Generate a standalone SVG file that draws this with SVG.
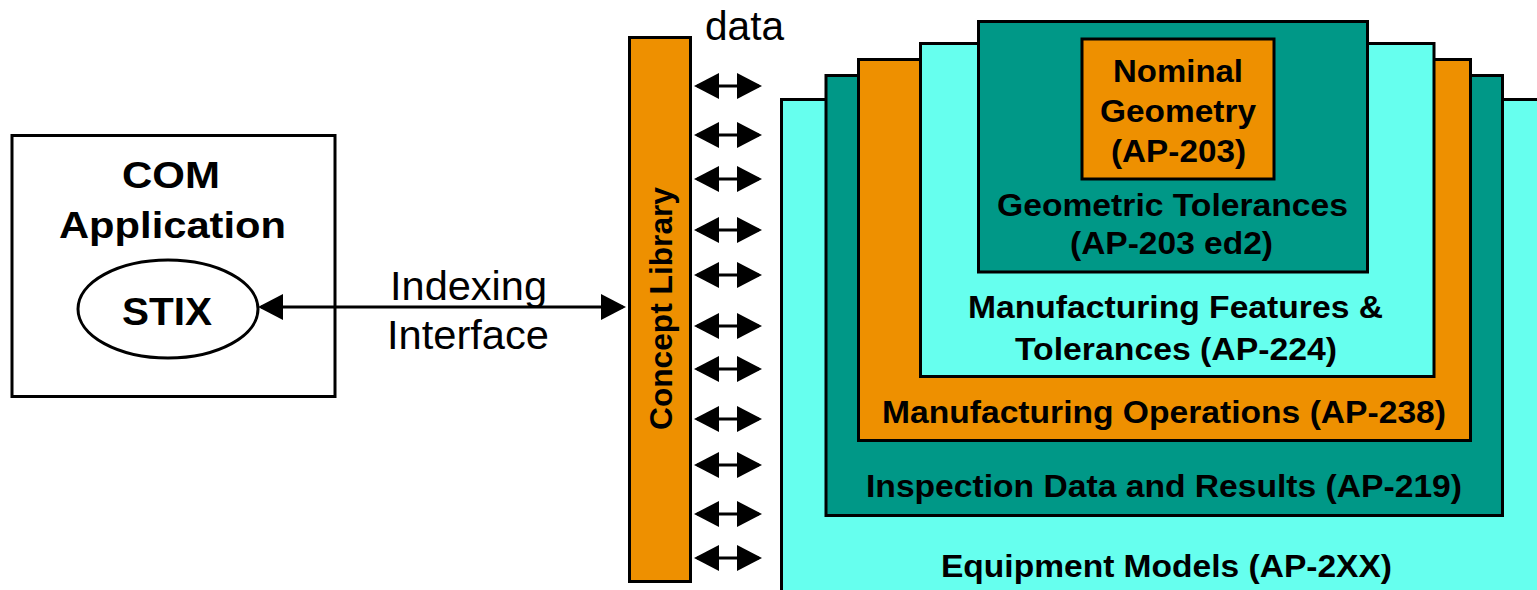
<svg xmlns="http://www.w3.org/2000/svg" width="1537" height="590" viewBox="0 0 1537 590">
  <style>
    .frame { stroke: #000; stroke-width: 3; }
    .cyan { fill: #66FFEE; }
    .teal { fill: #009887; }
    .orange { fill: #EE9000; }
    .white { fill: #FFFFFF; }
    .bold { font-family: "Liberation Sans", Arial, sans-serif; font-weight: bold; fill: #000; text-anchor: middle; }
    .plain { font-family: "Liberation Sans", Arial, sans-serif; font-weight: normal; fill: #000; text-anchor: middle; }
    .box-label { font-size: 31px; }
    .link { stroke: #000; stroke-width: 3; fill: none; marker-start: url(#head); marker-end: url(#head); }
  </style>
  <defs>
    <marker id="head" markerUnits="userSpaceOnUse" markerWidth="25" markerHeight="26" refX="22" refY="13" orient="auto-start-reverse" viewBox="0 0 25 26">
      <path d="M0,0 L25,13 L0,26 Z" fill="#000"/>
    </marker>
  </defs>

  <rect width="1537" height="590" fill="#FFFFFF"/>

  <!-- Client application hosting the STIX component -->
  <g id="com-application">
    <rect class="frame white" x="12" y="135.5" width="323" height="261"/>
    <text class="bold" x="171" y="188" font-size="37" textLength="98" lengthAdjust="spacingAndGlyphs">COM</text>
    <text class="bold" x="172.5" y="238" font-size="37" textLength="227" lengthAdjust="spacingAndGlyphs">Application</text>
  </g>
  <g id="stix">
    <ellipse class="frame white" cx="168" cy="309" rx="90" ry="49"/>
    <text class="bold" x="167" y="325" font-size="39" textLength="90" lengthAdjust="spacingAndGlyphs">STIX</text>
  </g>

  <!-- Vertical concept library bar -->
  <g id="concept-library">
    <rect class="frame orange" x="629.5" y="37.5" width="61" height="544"/>
    <text class="bold" transform="translate(672,308.5) rotate(-90)" x="0" y="0" font-size="31" textLength="243" lengthAdjust="spacingAndGlyphs">Concept Library</text>
  </g>

  <!-- Nested application protocol layers, outermost first -->
  <g id="ap-2xx">
    <rect class="frame cyan" x="781.5" y="99.5" width="760" height="500"/>
    <text class="bold box-label" x="1166.5" y="577" textLength="451" lengthAdjust="spacingAndGlyphs">Equipment Models (AP-2XX)</text>
  </g>
  <g id="ap-219">
    <rect class="frame teal" x="826" y="75.5" width="676.5" height="440"/>
    <text class="bold box-label" x="1164" y="497" textLength="596" lengthAdjust="spacingAndGlyphs">Inspection Data and Results (AP-219)</text>
  </g>
  <g id="ap-238">
    <rect class="frame orange" x="858.5" y="59.5" width="612" height="381"/>
    <text class="bold box-label" x="1164" y="423" textLength="564" lengthAdjust="spacingAndGlyphs">Manufacturing Operations (AP-238)</text>
  </g>
  <g id="ap-224">
    <rect class="frame cyan" x="920.5" y="43.5" width="513.5" height="333"/>
    <text class="bold box-label" x="1175.5" y="318" textLength="415" lengthAdjust="spacingAndGlyphs">Manufacturing Features &amp;</text>
    <text class="bold box-label" x="1176" y="360" textLength="322" lengthAdjust="spacingAndGlyphs">Tolerances (AP-224)</text>
  </g>
  <g id="ap-203-ed2">
    <rect class="frame teal" x="978.5" y="21.5" width="389" height="250.5"/>
    <text class="bold box-label" x="1172.5" y="216" textLength="351" lengthAdjust="spacingAndGlyphs">Geometric Tolerances</text>
    <text class="bold box-label" x="1171.5" y="254" textLength="203" lengthAdjust="spacingAndGlyphs">(AP-203 ed2)</text>
  </g>
  <g id="ap-203">
    <rect class="frame orange" x="1082" y="39" width="192" height="140"/>
    <text class="bold box-label" x="1178" y="82" textLength="130" lengthAdjust="spacingAndGlyphs">Nominal</text>
    <text class="bold box-label" x="1178" y="122" textLength="156" lengthAdjust="spacingAndGlyphs">Geometry</text>
    <text class="bold box-label" x="1178.5" y="162" textLength="135" lengthAdjust="spacingAndGlyphs">(AP-203)</text>
  </g>

  <!-- Connectors -->
  <g id="connectors">
    <line class="link" x1="261" y1="307" x2="623" y2="307"/>
    <line class="link" x1="697" y1="86" x2="759" y2="86"/>
    <line class="link" x1="697" y1="135" x2="759" y2="135"/>
    <line class="link" x1="697" y1="179" x2="759" y2="179"/>
    <line class="link" x1="697" y1="230" x2="759" y2="230"/>
    <line class="link" x1="697" y1="275" x2="759" y2="275"/>
    <line class="link" x1="697" y1="326" x2="759" y2="326"/>
    <line class="link" x1="697" y1="369" x2="759" y2="369"/>
    <line class="link" x1="697" y1="419" x2="759" y2="419"/>
    <line class="link" x1="697" y1="465" x2="759" y2="465"/>
    <line class="link" x1="697" y1="514" x2="759" y2="514"/>
    <line class="link" x1="697" y1="558" x2="759" y2="558"/>
  </g>

  <!-- Connector labels -->
  <g id="labels">
    <text class="plain" x="468.5" y="300" font-size="41" textLength="157" lengthAdjust="spacingAndGlyphs">Indexing</text>
    <text class="plain" x="468" y="349" font-size="41" textLength="162" lengthAdjust="spacingAndGlyphs">Interface</text>
    <text class="plain" x="744.5" y="40" font-size="41" textLength="79" lengthAdjust="spacingAndGlyphs">data</text>
  </g>
</svg>
